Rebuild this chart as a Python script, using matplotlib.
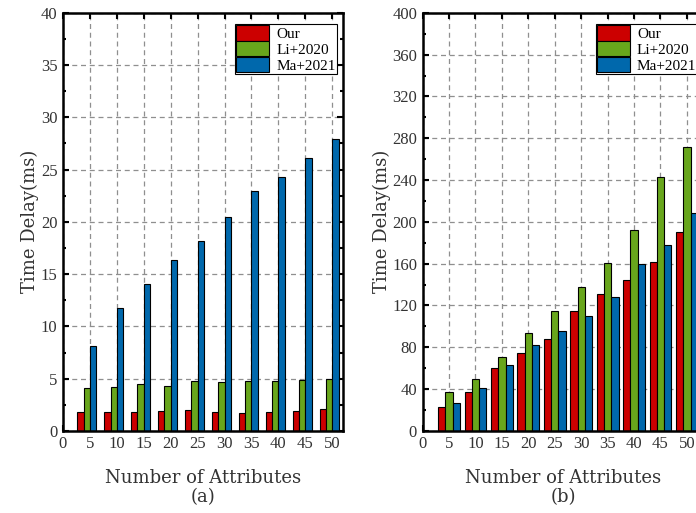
import numpy as np
import matplotlib
matplotlib.use("Agg")
import matplotlib.pyplot as plt
from matplotlib.ticker import MultipleLocator

plt.rcParams['font.family'] = ['Liberation Serif', 'DejaVu Serif']

attrs = [5, 10, 15, 20, 25, 30, 35, 40, 45, 50]
labels = ["Our", "Li+2020", "Ma+2021"]
colors = ["#CC0000", "#68A61C", "#0068AC"]

# (a) time delay, small scale
our_a = [1.83, 1.83, 1.83, 1.92, 2.0, 1.83, 1.7, 1.83, 1.92, 2.1]
li_a = [4.13, 4.23, 4.52, 4.33, 4.8, 4.71, 4.8, 4.8, 4.9, 5.0]
ma_a = [8.14, 11.73, 14.04, 16.35, 18.14, 20.42, 22.93, 24.34, 26.14, 27.97]

# (b) time delay, large scale
our_b = [22.8, 37.2, 60.4, 74.2, 87.7, 114.6, 131.0, 144.8, 161.8, 190.4]
li_b = [37.2, 50.1, 71.0, 93.4, 114.6, 137.8, 160.9, 192.0, 243.4, 271.3]
ma_b = [27.0, 41.4, 62.6, 82.5, 95.4, 109.8, 127.8, 159.9, 178.2, 208.1]

fig = plt.figure(figsize=(6.96, 5.13), dpi=100)
ax1 = fig.add_axes([0.0905, 0.160, 0.4023, 0.815])
ax2 = fig.add_axes([0.6072, 0.160, 0.4040, 0.815])

label_font = {"family": "DejaVu Serif", "size": 13}


def draw(ax, series, width, offsets, xmax, ymax, ystep, sub):
    x = np.array(attrs, dtype=float)
    for vals, lab, col, off in zip(series, labels, colors, offsets):
        ax.bar(x + off * width, vals, width, color=col, edgecolor="black",
               linewidth=0.8, label=lab, zorder=3)
    ax.set_xlim(0, xmax)
    ax.set_ylim(0, ymax)
    ax.xaxis.set_major_locator(MultipleLocator(5))
    ax.yaxis.set_major_locator(MultipleLocator(ystep))
    ax.yaxis.set_minor_locator(MultipleLocator(ystep / 2))
    ax.tick_params(which="both", direction="in", top=True, right=True,
                   labelsize=12, width=1.5, color="black", labelcolor="#333333")
    ax.tick_params(which="major", length=4, pad=4)
    ax.tick_params(which="minor", length=2.5)
    ax.grid(True, which="major", color="#8f8f8f", linestyle=(0, (4, 3)),
            linewidth=0.9, zorder=0)
    for s in ax.spines.values():
        s.set_linewidth(1.8)
        s.set_zorder(5)
    ax.set_ylabel("Time Delay(ms)", fontdict=label_font, color="#333333",
                  labelpad=1)
    ax.set_xlabel("Number of Attributes\n" + sub, fontdict=label_font,
                  color="#333333", linespacing=1.1, labelpad=12)
    # legend sits a few pixels inside the top-right corner
    bw = ax.get_position().width * fig.get_figwidth() * fig.dpi
    bh = ax.get_position().height * fig.get_figheight() * fig.dpi
    leg = ax.legend(loc="upper right", bbox_to_anchor=(1 - 6 / bw, 1 - 11 / bh),
                    fontsize=11, frameon=True, fancybox=False,
                    edgecolor="black", framealpha=1, labelspacing=0.0,
                    handlelength=2.15, handleheight=1.15, handletextpad=0.45,
                    borderpad=0.1, borderaxespad=0.0)
    leg.get_frame().set_linewidth(0.8)
    leg.set_zorder(6)


draw(ax1, [our_a, li_a, ma_a], 1.17, [-1.5, -0.5, 0.5], 52, 40, 5, "(a)")
draw(ax2, [our_b, li_b, ma_b], 1.38, [-1.0, 0.0, 1.0], 53.2, 400, 40, "(b)")

fig.savefig("out.png", dpi=100)
